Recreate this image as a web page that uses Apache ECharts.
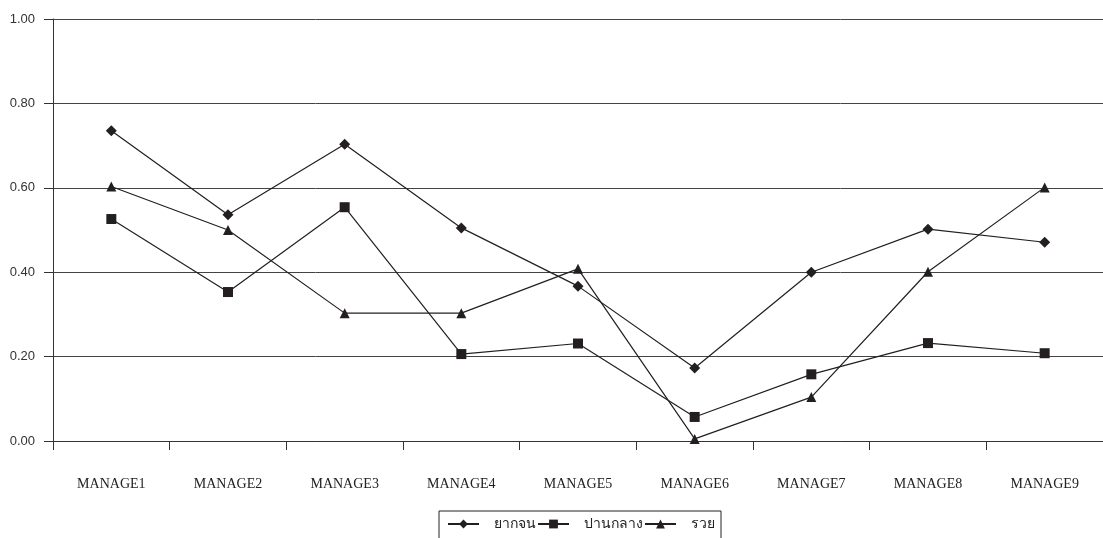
<!DOCTYPE html>
<html>
<head>
<meta charset="utf-8">
<script src="https://cdn.jsdelivr.net/npm/echarts@6/dist/echarts.min.js"></script>
<style>
    html, body { margin: 0; padding: 0; background: #fff; }
    #chart { width: 1103px; height: 538px; }
</style>
</head>
<body>
<div id="chart"></div>
<script>
    var categories = ['MANAGE1', 'MANAGE2', 'MANAGE3', 'MANAGE4', 'MANAGE5', 'MANAGE6', 'MANAGE7', 'MANAGE8', 'MANAGE9'];
    var seriesNames = ['ยากจน', 'ปานกลาง', 'รวย'];
    var poor = [0.735, 0.536, 0.703, 0.505, 0.367, 0.173, 0.400, 0.502, 0.471];
    var middle = [0.526, 0.353, 0.554, 0.206, 0.231, 0.057, 0.158, 0.232, 0.208];
    var rich = [0.603, 0.500, 0.303, 0.303, 0.408, 0.005, 0.104, 0.401, 0.601];

    var ink = '#231f20';

    // สร้าง series แบบเส้นสีดำพร้อม marker
    function buildSeries(name, data, symbol, size) {
        return {
            name: name,
            type: 'line',
            data: data,
            symbol: symbol,
            symbolSize: size,
            showAllSymbol: true,
            lineStyle: { color: ink, width: 1.2 },
            itemStyle: { color: ink },
            emphasis: { disabled: true }
        };
    }

    var chart = echarts.init(document.getElementById('chart'));

    chart.setOption({
        animation: false,
        legend: {
            data: seriesNames,
            left: 439,
            top: 511,
            padding: [6, 6, 30, 8],
            borderColor: '#222',
            borderWidth: 1,
            itemWidth: 31,
            itemHeight: 11,
            itemGap: 1,
            textStyle: {
                fontFamily: 'DejaVu Sans, Noto Sans, sans-serif',
                fontSize: 14,
                color: '#222',
                padding: [0, 0, 0, 10]
            }
        },
        grid: {
            left: 53,
            top: 19,
            width: 1056,
            height: 422
        },
        xAxis: {
            type: 'category',
            data: categories,
            boundaryGap: true,
            axisLine: { lineStyle: { color: '#333', width: 1 } },
            axisTick: { show: true, length: 9, alignWithLabel: false, lineStyle: { color: '#333' } },
            axisLabel: {
                margin: 36,
                fontFamily: 'Liberation Serif, serif',
                fontSize: 14,
                color: '#222'
            }
        },
        yAxis: {
            type: 'value',
            min: 0,
            max: 1,
            interval: 0.2,
            axisLine: { show: true, lineStyle: { color: '#333', width: 1 } },
            axisTick: { show: true, length: 9, lineStyle: { color: '#333' } },
            splitLine: { show: true, lineStyle: { color: '#444', width: 1 } },
            axisLabel: {
                margin: 18,
                fontFamily: 'Liberation Sans, Arial, sans-serif',
                fontSize: 13,
                color: '#333',
                formatter: function (v) { return v.toFixed(2); }
            }
        },
        series: [
            buildSeries(seriesNames[0], poor, 'diamond', 11),
            buildSeries(seriesNames[1], middle, 'rect', 10),
            buildSeries(seriesNames[2], rich, 'triangle', 10)
        ]
    });
</script>
</body>
</html>
